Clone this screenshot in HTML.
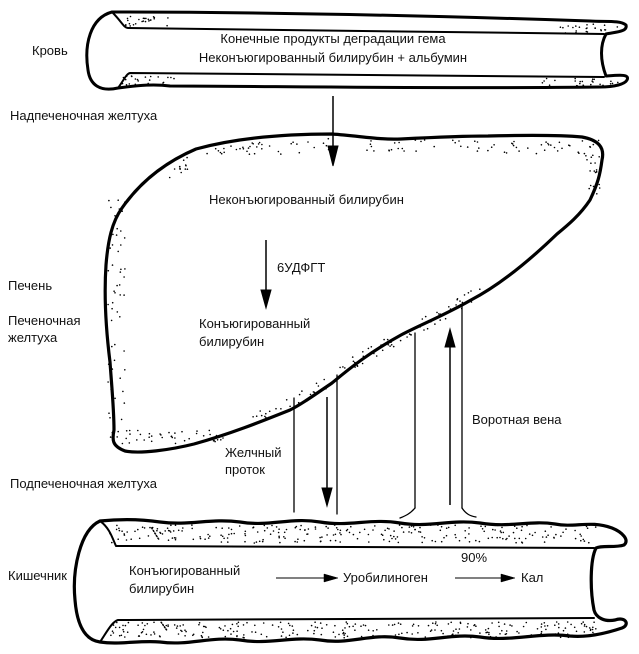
<!DOCTYPE html>
<html><head><meta charset="utf-8"><style>
html,body{margin:0;padding:0;background:#fff}
svg{display:block}
text{font-family:"Liberation Sans","DejaVu Sans",sans-serif;font-size:13px;fill:#111}
</style></head><body>
<svg id="s" width="639" height="654" viewBox="0 0 639 654" xmlns="http://www.w3.org/2000/svg">
<g fill="none" stroke="#000" stroke-linecap="round" stroke-linejoin="round">
<!-- top tube -->
<path d="M112,12 C90,18 84,45 88,70 C90,85 100,92 118,88 C140,85 155,84 170,86 C260,86 420,89 600,87 C615,87 625,84 627,80 C630,74 620,75 606,76 C600,60 600,45 606,34 C615,32 628,32 626,25 C620,20 605,22 590,21 C440,16 280,12 112,12 Z" stroke-width="3"/>
<path d="M112,12 C122,22 124,28 128,28 C260,31 420,33 604,34" stroke-width="2"/>
<path d="M118,88 C124,80 126,74 130,73 C260,75 420,76 604,77" stroke-width="2"/>
<!-- liver -->
<path d="M106,265 C108,240 112,222 122,208 C145,175 175,158 196,149 C240,137 290,134 332,134 C360,136 380,140 401,139 C440,137 470,136 488,136 C530,135 560,135 582,137 C598,140 605,147 602,160 C600,175 598,183 590,200 C580,215 568,225 557,234 C530,260 500,285 471,300 C445,315 420,325 401,335 C370,352 350,368 332,383 C310,398 300,405 290,410 C260,422 230,434 194,444 C170,450 140,454 125,451 C112,446 112,440 114,430 C114,410 112,390 110,362 C106,330 104,295 106,265 Z" stroke-width="3.2"/>
<!-- vessels -->
<line x1="294" y1="398" x2="294" y2="512" stroke-width="1.3"/>
<line x1="337" y1="375" x2="337" y2="514" stroke-width="1.3"/>
<line x1="415" y1="333" x2="415" y2="508" stroke-width="1.3"/>
<line x1="462" y1="305" x2="462" y2="508" stroke-width="1.3"/>
<path d="M415,508 C410,514 405,516 400,518" stroke-width="1.3"/>
<path d="M462,508 C466,514 470,516 476,517" stroke-width="1.3"/>
<!-- bottom tube -->
<path d="M100,521 C80,530 72,570 75,600 C77,625 85,640 100,642 C120,645 140,640 160,642 C190,646 210,636 240,640 C270,645 290,636 320,640 C350,645 370,633 400,638 C430,643 450,633 480,637 C510,642 540,632 570,636 C590,638 610,632 622,628 C630,625 626,616 615,620 C605,622 596,618 594,610 C590,590 590,560 596,548 C602,545 615,548 624,545 C630,540 622,532 612,528 C590,520 575,528 555,524 C530,520 510,528 480,523 C450,519 430,528 400,523 C370,518 350,527 320,522 C290,517 270,527 240,522 C210,518 190,526 160,522 C140,519 120,519 100,521 Z" stroke-width="3.2"/>
<path d="M100,521 C110,528 113,540 116,546 C280,547 440,548 594,548" stroke-width="2"/>
<path d="M100,642 C108,630 112,622 118,620 C280,619 440,619 594,618" stroke-width="2"/>
</g>
<g id="dots" fill="#000"></g>
<g fill="#000" stroke="#000" stroke-width="1.5">
<line x1="333" y1="96" x2="333" y2="150"/><path d="M328,146 L333,166 L338,146 Z" stroke-width="1"/>
<line x1="266" y1="240" x2="266" y2="292"/><path d="M261,290 L266,308 L271,290 Z" stroke-width="1"/>
<line x1="327" y1="397" x2="327" y2="490"/><path d="M322,488 L327,506 L332,488 Z" stroke-width="1"/>
<line x1="450" y1="505" x2="450" y2="345"/><path d="M445,347 L450,329 L455,347 Z" stroke-width="1"/>
<line x1="276" y1="578" x2="326" y2="578" stroke-width="1"/><path d="M324,574 L338,578 L324,582 Z" stroke-width="0.5"/>
<line x1="455" y1="578" x2="503" y2="578" stroke-width="1"/><path d="M501,574 L515,578 L501,582 Z" stroke-width="0.5"/>
</g>
<text x="32" y="55">Кровь</text>
<text x="333" y="43" text-anchor="middle">Конечные продукты деградации гема</text>
<text x="333" y="62" text-anchor="middle">Неконъюгированный билирубин + альбумин</text>
<text x="10" y="120">Надпеченочная желтуха</text>
<text x="209" y="204">Неконъюгированный билирубин</text>
<text x="277" y="272">6УДФГТ</text>
<text x="8" y="290">Печень</text>
<text x="8" y="325">Печеночная</text>
<text x="8" y="342">желтуха</text>
<text x="199" y="328">Конъюгированный</text>
<text x="199" y="346">билирубин</text>
<text x="472" y="424">Воротная вена</text>
<text x="225" y="457">Желчный</text>
<text x="225" y="474">проток</text>
<text x="10" y="488">Подпеченочная желтуха</text>
<text x="8" y="580">Кишечник</text>
<text x="129" y="575">Конъюгированный</text>
<text x="129" y="593">билирубин</text>
<text x="343" y="582">Уробилиноген</text>
<text x="461" y="562">90%</text>
<text x="521" y="582">Кал</text>
</svg>
<script>
var g=document.getElementById('dots'),seed=7;
function r(){seed=(seed*9301+49297)%233280;return seed/233280;}
function band(x0,x1,yf,h,n){for(var i=0;i<n;i++){var x=x0+r()*(x1-x0);var y=yf(x)+r()*h;var c=document.createElementNS('http://www.w3.org/2000/svg','circle');c.setAttribute('cx',x.toFixed(1));c.setAttribute('cy',y.toFixed(1));c.setAttribute('r','0.8');g.appendChild(c);}}
band(122,170,function(x){return 16},10,25);band(560,620,function(x){return 24},9,25);
band(122,180,function(x){return 76},10,25);band(540,620,function(x){return 78},8,25);
band(110,600,function(x){return 525},18,260);band(110,600,function(x){return 622},16,260);
band(160,330,function(x){return 150-(x-160)*0.08+ (x<200?(200-x)*0.6:0)},14,50);
band(360,600,function(x){return 140},14,60);
band(340,480,function(x){return 300+(480-x)*0.55-14},14,60);
band(250,330,function(x){return 390+(330-x)*0.5-14},12,25);
band(110,240,function(x){return 430},14,45);
band(108,125,function(x){return 200},240,55);
band(585,600,function(x){return 145},50,20);
</script>
</body></html>
